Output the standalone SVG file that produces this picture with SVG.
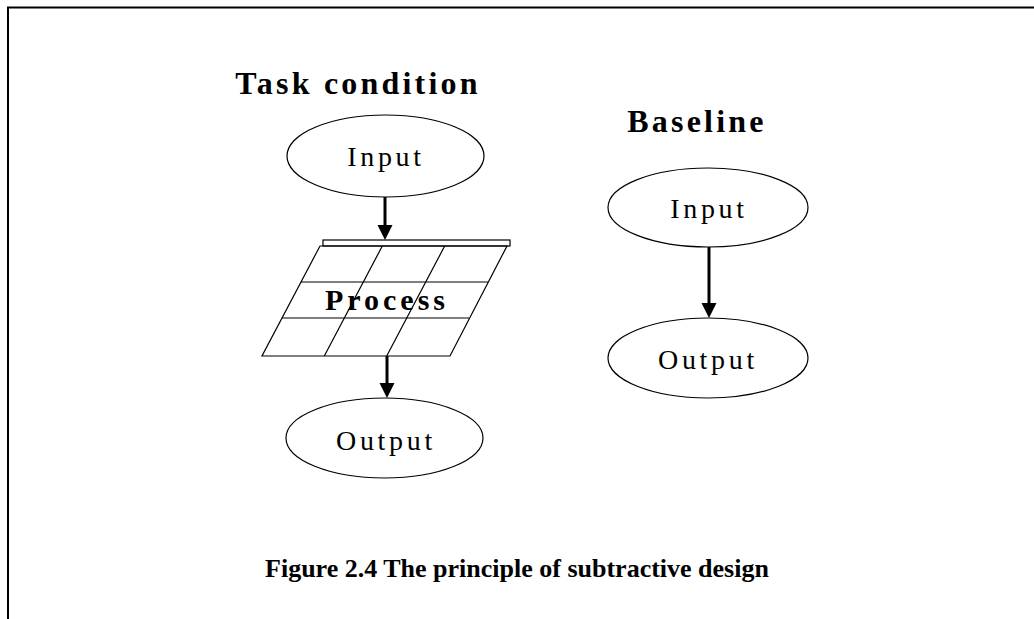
<svg xmlns="http://www.w3.org/2000/svg" width="1034" height="619" viewBox="0 0 1034 619">
  <style>
    .frame { stroke: #000; stroke-width: 2; fill: none; }
    .node { fill: #fff; stroke: #000; stroke-width: 1.2; }
    .grid { fill: none; stroke: #000; stroke-width: 1.2; }
    .label { font-family: "Liberation Serif", "Times New Roman", serif; font-size: 28px; fill: #000; text-anchor: middle; letter-spacing: 3.7px; }
    .title { font-family: "Liberation Serif", "Times New Roman", serif; font-size: 32px; font-weight: bold; fill: #000; text-anchor: middle; letter-spacing: 3.2px; }
    .caption { font-family: "Liberation Serif", "Times New Roman", serif; font-size: 26px; font-weight: bold; fill: #000; text-anchor: middle; }
    .edge { stroke: #000; stroke-width: 3; fill: none; marker-end: url(#head); }
  </style>
  <defs>
    <marker id="head" markerUnits="userSpaceOnUse" markerWidth="16" markerHeight="16" viewBox="0 -8 16 16" refX="7" refY="0" orient="auto">
      <path d="M0,-7.5 L15,0 L0,7.5 Z" fill="#000"/>
    </marker>
  </defs>

  <rect width="1034" height="619" fill="#fff"/>

  <!-- page frame (top and left rules) -->
  <path class="frame" d="M1034,7.5 H8 V619"/>

  <!-- column headings -->
  <text class="title" x="358" y="94">Task condition</text>
  <text class="title" x="697" y="132">Baseline</text>

  <!-- task condition: input -->
  <g id="task-input">
    <ellipse class="node" cx="385.5" cy="156" rx="98.5" ry="41"/>
    <text class="label" x="386" y="166">Input</text>
  </g>

  <!-- task condition: process grid -->
  <g id="task-process">
    <rect class="grid" x="323" y="240" width="187" height="6"/>
    <path class="grid" d="M320,246 L507,246 L450,356 L262,356 Z"/>
    <path class="grid" d="M301,282 H488 M282,318 H469"/>
    <path class="grid" d="M382.3,246 L324.3,356 M444.7,246 L386.7,356"/>
    <text class="title" x="387" y="310" style="letter-spacing:4px;font-size:30px">Process</text>
  </g>

  <!-- task condition: output -->
  <g id="task-output">
    <ellipse class="node" cx="384.5" cy="438" rx="98.5" ry="40"/>
    <text class="label" x="386" y="450">Output</text>
  </g>

  <!-- baseline: input -->
  <g id="base-input">
    <ellipse class="node" cx="708" cy="207.5" rx="100" ry="39.5"/>
    <text class="label" x="709" y="218">Input</text>
  </g>

  <!-- baseline: output -->
  <g id="base-output">
    <ellipse class="node" cx="708" cy="358" rx="100" ry="40"/>
    <text class="label" x="708" y="369">Output</text>
  </g>

  <!-- connectors -->
  <g id="connectors">
    <line class="edge" x1="385" y1="197" x2="385" y2="232"/>
    <line class="edge" x1="387" y1="356" x2="387" y2="390"/>
    <line class="edge" x1="709" y1="247" x2="709" y2="310"/>
  </g>

  <!-- caption -->
  <text class="caption" x="517" y="577">Figure 2.4 The principle of subtractive design</text>
</svg>
